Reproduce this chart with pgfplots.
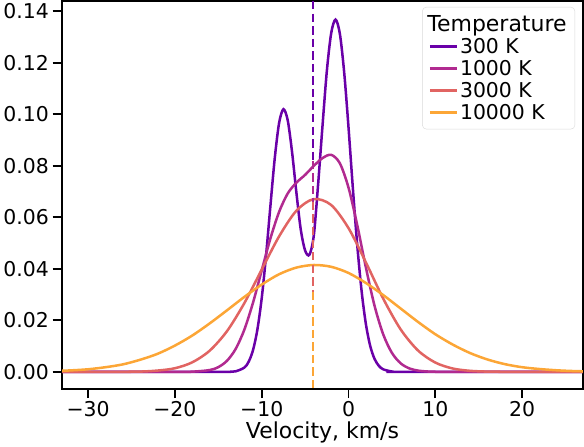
\documentclass[border=0pt]{standalone}
\usepackage{pgfplots}
\pgfplotsset{compat=1.18}
\usepackage{fontspec}
\setmainfont{DejaVu Sans}
\definecolor{c1}{HTML}{6A00A8}
\definecolor{c2}{HTML}{B12A90}
\definecolor{c3}{HTML}{E16462}
\definecolor{c4}{HTML}{FCA636}
\begin{document}
\begin{tikzpicture}
\begin{axis}[
  scale only axis, width=496bp, height=369bp,
  xmin=-33, xmax=27, ymin=-0.0065, ymax=0.144,
  xtick={-30,-20,-10,0,10,20},
  xticklabels={−30,−20,−10,0,10,20},
  ytick={0,0.02,0.04,0.06,0.08,0.1,0.12,0.14},
  yticklabel style={/pgf/number format/.cd,fixed,fixed zerofill,precision=2},
  /pgf/number format/assume math mode=true,
  tick label style={font=\fontsize{19.5}{23}\selectfont},
  xlabel={Velocity, km/s}, xlabel style={font=\fontsize{21}{25}\selectfont, yshift=2pt},
  axis line style={line width=2pt},
  tick style={line width=1.8pt, black}, major tick length=9pt,
  tick align=outside, xtick pos=bottom, ytick pos=left,
  legend style={at={(0.985,0.985)}, anchor=north east, font=\fontsize{19.5}{23}\selectfont,
    draw=black!15, rounded corners=4pt, row sep=1pt, inner sep=6pt},
  legend cell align=left,
  legend image post style={xscale=1.5},
  every axis plot/.append style={line width=2.4pt, smooth},
]
\addlegendimage{empty legend}\addlegendentry{\hspace{-1.6em}\fontsize{21}{25}\selectfont Temperature}
\addplot[c1] coordinates {(-34,0)(-15,0)(-14,0.00002)(-13,0.00022)(-12,0.00167)(-11.5,0.00396)(-11,0.00847)(-10.5,0.0164)(-10,0.0286)(-9.5,0.0452)(-9,0.0644)(-8.5,0.0829)(-8,0.0966)(-7.5,0.102)(-7,0.0976)(-6.5,0.0852)(-6,0.0694)(-5.5,0.0552)(-5,0.0471)(-4.5,0.0455)(-4,0.0530)(-3.5,0.0730)(-3,0.0955)(-2.5,0.1168)(-2,0.1315)(-1.5,0.1368)(-1,0.1313)(-0.5,0.1162)(0,0.0948)(0.5,0.0712)(1,0.0493)(1.5,0.0315)(2,0.0185)(2.5,0.0100)(3,0.0050)(3.5,0.0023)(4,0.00098)(5,0.00014)(6,0)(28,0)};
\addlegendentry{300 K}
\addplot[c2] coordinates {(-34,0)(-20,0)(-18,0.00007)(-16,0.00069)(-15,0.00183)(-14,0.0043)(-13,0.0089)(-12,0.0164)(-11,0.0269)(-10,0.0394)(-9,0.0518)(-8,0.0621)(-7,0.0693)(-6,0.0735)(-5,0.0765)(-4,0.0800)(-3,0.0830)(-2,0.0843)(-1,0.0810)(0,0.0715)(1,0.0570)(2,0.0405)(3,0.0256)(4,0.0145)(5,0.00735)(6,0.00332)(7,0.00134)(8,0.00048)(9,0.00016)(10,0.00004)(12,0)(28,0)};
\addlegendentry{1000 K}
\addplot[c3] coordinates {(-34,0)(-30,0)(-26,0.00003)(-24,0.0001)(-22,0.0005)(-20,0.0014)(-18,0.0037)(-16,0.0082)(-14,0.0158)(-12,0.0267)(-10,0.0397)(-8,0.0526)(-6,0.0626)(-4,0.0671)(-2,0.0648)(0,0.0558)(2,0.0425)(4,0.0284)(6,0.0165)(8,0.0083)(10,0.0036)(12,0.0013)(14,0.0004)(16,0.0001)(18,0.00003)(22,0)(28,0)};
\addlegendentry{3000 K}
\addplot[c4] coordinates {(-34,0.0003)(-32,0.00057)(-30,0.0010)(-28,0.0018)(-26,0.0029)(-24,0.0047)(-22,0.0070)(-20,0.0102)(-18,0.0141)(-16,0.0188)(-14,0.0239)(-12,0.0291)(-10,0.0339)(-8,0.0379)(-6,0.0405)(-4,0.0415)(-2,0.0408)(0,0.0384)(2,0.0345)(4,0.0298)(6,0.0246)(8,0.0194)(10,0.0146)(12,0.0106)(14,0.0073)(16,0.0048)(18,0.0030)(20,0.0018)(22,0.0011)(24,0.0006)(26,0.0003)(28,0.00015)};
\addlegendentry{10000 K}
\addplot[c1, sharp plot, forget plot, dash pattern=on 8pt off 4pt] coordinates {(-4.1,0.144)(-4.1,0.082)};
\addplot[c2, sharp plot, forget plot, dash pattern=on 8pt off 4pt] coordinates {(-4.1,0.082)(-4.1,0.066)};
\addplot[c3, sharp plot, forget plot, dash pattern=on 8pt off 4pt] coordinates {(-4.1,0.066)(-4.1,0.031)};
\addplot[c4, sharp plot, forget plot, dash pattern=on 8pt off 4pt] coordinates {(-4.1,0.031)(-4.1,-0.0065)};
\end{axis}
\end{tikzpicture}
\end{document}
